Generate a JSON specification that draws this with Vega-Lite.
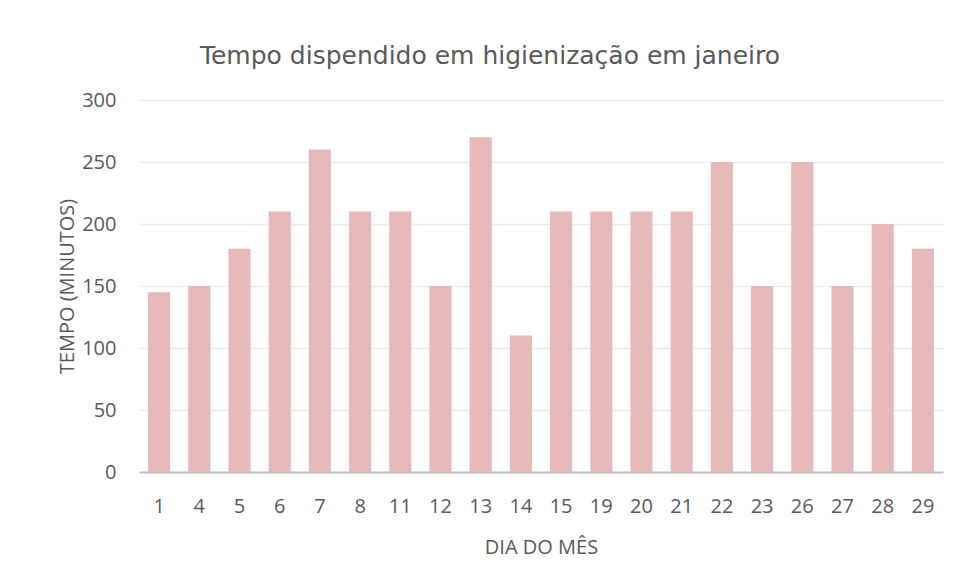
{
  "$schema": "https://vega.github.io/schema/vega-lite/v6.json",
  "autosize": "none",
  "width": 804,
  "height": 372,
  "padding": {"left": 139, "top": 100, "right": 14, "bottom": 108},
  "background": "white",
  "title": {
    "text": "Tempo dispendido em higienização em janeiro",
    "font": "DejaVu Sans",
    "fontSize": 25,
    "fontWeight": "normal",
    "color": "#595959",
    "anchor": "middle",
    "dx": -51,
    "offset": 21
  },
  "data": {
    "values": [
      {"dia": "1", "tempo": 145},
      {"dia": "4", "tempo": 150},
      {"dia": "5", "tempo": 180},
      {"dia": "6", "tempo": 210},
      {"dia": "7", "tempo": 260},
      {"dia": "8", "tempo": 210},
      {"dia": "11", "tempo": 210},
      {"dia": "12", "tempo": 150},
      {"dia": "13", "tempo": 270},
      {"dia": "14", "tempo": 110},
      {"dia": "15", "tempo": 210},
      {"dia": "19", "tempo": 210},
      {"dia": "20", "tempo": 210},
      {"dia": "21", "tempo": 210},
      {"dia": "22", "tempo": 250},
      {"dia": "23", "tempo": 150},
      {"dia": "26", "tempo": 250},
      {"dia": "27", "tempo": 150},
      {"dia": "28", "tempo": 200},
      {"dia": "29", "tempo": 180}
    ]
  },
  "mark": {"type": "bar", "color": "#E6B8B7"},
  "encoding": {
    "x": {
      "field": "dia",
      "type": "ordinal",
      "sort": null,
      "scale": {"paddingInner": 0.45, "paddingOuter": 0.225},
      "axis": {
        "title": "DIA DO MÊS",
        "labelAngle": 0,
        "ticks": false,
        "domainColor": "#BFBFBF",
        "domainWidth": 2,
        "labelFont": "Open Sans",
        "labelFontSize": 20,
        "labelColor": "#595959",
        "labelPadding": 24,
        "titleFont": "Open Sans",
        "titleFontSize": 20,
        "titleFontWeight": "normal",
        "titleColor": "#595959",
        "titlePadding": 21
      }
    },
    "y": {
      "field": "tempo",
      "type": "quantitative",
      "scale": {"domain": [0, 300]},
      "axis": {
        "title": "TEMPO (MINUTOS)",
        "values": [0, 50, 100, 150, 200, 250, 300],
        "ticks": false,
        "domain": false,
        "gridColor": "#EBEBEB",
        "gridWidth": 1.5,
        "labelFont": "Open Sans",
        "labelFontSize": 20,
        "labelColor": "#595959",
        "labelPadding": 23,
        "titleFont": "Open Sans",
        "titleFontSize": 20,
        "titleFontWeight": "normal",
        "titleColor": "#595959",
        "titlePadding": 4
      }
    }
  },
  "config": {"view": {"stroke": null}}
}
